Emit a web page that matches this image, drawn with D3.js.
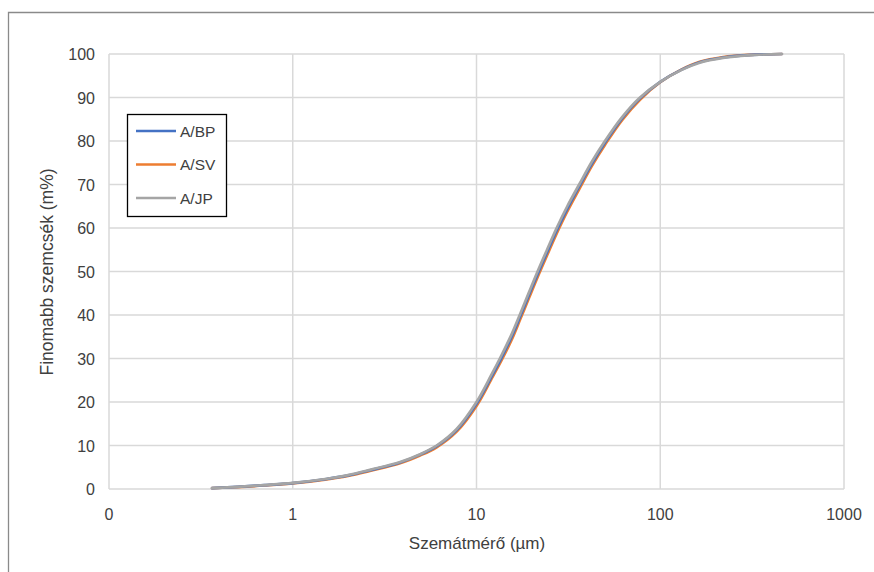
<!DOCTYPE html>
<html><head><meta charset="utf-8">
<script src="https://cdn.jsdelivr.net/npm/d3@7"></script>
<style>body{margin:0;background:#fff}svg{display:block}</style>
</head><body><svg id="c" width="874" height="572"></svg>
<script>
const sizes    = [0.364,0.5,0.7,1,1.5,2,2.63,3.84,4.93,6.07,7.8,10,12,13.7,15.5,17.3,19.3,21.5,24.2,27.3,31.2,36.2,42.5,50,62,77.6,100,130,164,220,300,459];
const seriesBP = [0.2,0.5,0.88,1.37,2.25,3.12,4.3,6.1,7.9,9.85,13.55,19.6,25.6,30.2,34.9,39.7,44.6,49.4,54.4,59.4,64.4,69.5,74.8,79.6,85.2,89.8,93.6,96.35,98.1,99.2,99.75,100];
const seriesSV = [0.2,0.45,0.8,1.3,2.15,3.0,4.15,5.9,7.7,9.6,13.2,19.1,25.1,29.6,34.2,39.0,43.9,48.7,53.7,58.7,63.8,68.9,74.3,79.1,84.8,89.5,93.5,96.4,98.2,99.3,99.8,100];
const seriesJP = [0.2,0.5,0.9,1.4,2.3,3.2,4.4,6.2,8.0,10,13.8,20,26.1,30.8,35.5,40.3,45.2,50,55,60,65,70,75.3,80,85.5,90,93.6,96.3,98,99.1,99.7,100];
const seriesNames = ["A/BP","A/SV","A/JP"];
const seriesColors = ["#4472C4","#ED7D31","#A5A5A5"];
const xTicks = [0.1,1,10,100,1000];
const xTickLabels = ["0","1","10","100","1000"];
const yTicks = [0,10,20,30,40,50,60,70,80,90,100];

const svg = d3.select("#c");
const font = "'Liberation Sans', Arial, sans-serif";
const L=109, R=844, T=54, B=489;
const x = d3.scaleLog().domain([0.1,1000]).range([L,R]);
const y = d3.scaleLinear().domain([0,100]).range([B,T]);

// outer border
svg.append("path").attr("d","M8.5,580 L8.5,12.5 L880,12.5").attr("fill","none").attr("stroke","#8a8a8a").attr("stroke-width",1.3);

// grid
const grid = svg.append("g");
grid.selectAll("line.h").data(yTicks).join("line")
  .attr("x1",L).attr("x2",R).attr("y1",d=>y(d)).attr("y2",d=>y(d))
  .attr("stroke","#d9d9d9").attr("stroke-width",1.5);
grid.selectAll("line.v").data(xTicks).join("line")
  .attr("y1",T).attr("y2",B).attr("x1",d=>x(d)).attr("x2",d=>x(d))
  .attr("stroke","#d9d9d9").attr("stroke-width",1.5);

// axis labels
svg.append("g").selectAll("text").data(yTicks).join("text")
  .attr("x",95).attr("y",d=>y(d)+6).attr("text-anchor","end")
  .attr("font-family",font).attr("font-size",16).attr("fill","#404040").text(d=>d);
svg.append("g").selectAll("text").data(xTicks).join("text")
  .attr("x",d=>x(d)).attr("y",520).attr("text-anchor","middle")
  .attr("font-family",font).attr("font-size",16).attr("fill","#404040").text((d,i)=>xTickLabels[i]);
svg.append("text").attr("x",477).attr("y",549).attr("text-anchor","middle")
  .attr("font-family",font).attr("font-size",17).attr("fill","#404040").text("Szemátmérő (µm)");
svg.append("text").attr("transform","translate(53,272) rotate(-90)").attr("text-anchor","middle")
  .attr("font-family",font).attr("font-size",17.5).attr("fill","#404040").text("Finomabb szemcsék (m%)");

// lines
const data = [seriesBP, seriesSV, seriesJP];
const line = d3.line().x((d,i)=>x(sizes[i])).y(d=>y(d)).curve(d3.curveCatmullRom.alpha(0.5));
const order = [1,0,2];
svg.append("g").selectAll("path").data(order).join("path")
  .attr("d",k=>line(data[k])).attr("fill","none")
  .attr("stroke",k=>seriesColors[k]).attr("stroke-width",2.7).attr("stroke-linecap","round");

// legend
const lg = svg.append("g");
lg.append("rect").attr("x",127.5).attr("y",114.5).attr("width",99).attr("height",102)
  .attr("fill","#fff").attr("stroke","#000").attr("stroke-width",1.3);
seriesNames.forEach((n,i)=>{
  const yy = 131 + i*33.5;
  lg.append("line").attr("x1",136).attr("x2",176).attr("y1",yy).attr("y2",yy)
    .attr("stroke",seriesColors[i]).attr("stroke-width",2.7);
  lg.append("text").attr("x",180).attr("y",yy+5.5).attr("font-family",font).attr("font-size",15.5)
    .attr("fill","#404040").text(n);
});
</script></body></html>
